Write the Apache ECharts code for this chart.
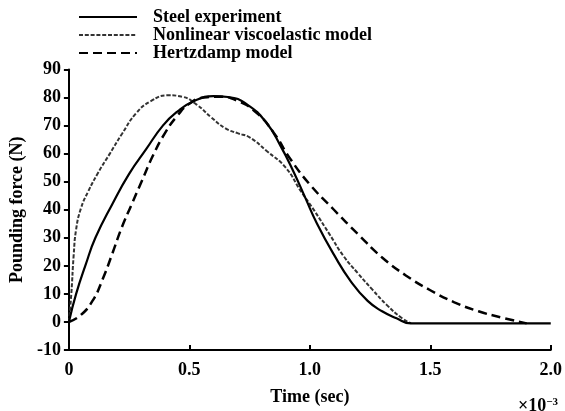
<!DOCTYPE html>
<html>
<head>
<meta charset="utf-8">
<script src="https://cdn.jsdelivr.net/npm/echarts@6/dist/echarts.min.js"></script>
<style>html,body{margin:0;padding:0;background:#fff;}#c{width:565px;height:411px;}</style>
</head>
<body>
<div id="c"></div>
<script>
// Time in units of 1e-3 s
const steelT = [0, 0.03, 0.07, 0.11, 0.18, 0.25, 0.32, 0.39, 0.45, 0.52, 0.6, 0.66, 0.74, 0.82, 0.88, 0.93, 0.98, 1.03, 1.1, 1.17, 1.24, 1.3, 1.36, 1.42, 2.0];
const steelF = [0, 10, 20.5, 30, 42, 52.8, 61.5, 70, 75, 78.8, 80.5, 80.2, 77.5, 71, 62.5, 54, 44.5, 35, 24, 14.5, 7.5, 3.8, 1.3, -0.5, -0.5];

const viscoT = [0, 0.01, 0.02, 0.03, 0.05, 0.08, 0.12, 0.17, 0.22, 0.28, 0.34, 0.41, 0.47, 0.53, 0.59, 0.65, 0.7, 0.75, 0.82, 0.9, 0.96, 1.02, 1.08, 1.14, 1.2, 1.26, 1.32, 1.38, 1.42];
const viscoF = [0, 10, 24, 33, 40.5, 46.5, 53, 60, 67, 74.5, 78.7, 80.8, 80.3, 77.5, 73, 69, 67.3, 65.8, 61, 55, 47, 39.5, 31.5, 23.5, 17.3, 11.5, 6, 1.5, -0.5];

const hertzT = [0, 0.05, 0.1, 0.14, 0.18, 0.22, 0.26, 0.3, 0.35, 0.4, 0.45, 0.5, 0.56, 0.62, 0.7, 0.78, 0.85, 0.92, 1.0, 1.1, 1.2, 1.3, 1.4, 1.5, 1.6, 1.7, 1.8, 1.9];
const hertzF = [0, 2.5, 7.8, 15.2, 24.3, 33.8, 41.8, 49.7, 59.5, 67.5, 73.5, 77.8, 80, 80.3, 78.8, 74.5, 67.5, 58, 49, 40, 31.3, 23, 16.5, 11.3, 7, 3.8, 1.5, -0.5];

const xTicks = ['0', '0.5', '1.0', '1.5', '2.0'];
const seriesNames = ['Steel experiment', 'Nonlinear viscoelastic model', 'Hertzdamp model'];

const zip = (a, b) => a.map((v, i) => [v, b[i]]);
const serif = '"Liberation Serif", "DejaVu Serif", serif';
const FS = 18;

const chart = echarts.init(document.getElementById('c'), null, {renderer: 'canvas'});
chart.setOption({
  animation: false,
  backgroundColor: '#fff',
  textStyle: {fontFamily: serif, color: '#000'},
  grid: {left: 66.5, right: 13.3, top: 69.5, bottom: 59.3, containLabel: false},
  legend: {
    orient: 'vertical',
    left: 73, top: 3,
    itemWidth: 58, itemHeight: 14, itemGap: 0,
    data: seriesNames,
    itemStyle: {opacity: 0},
    textStyle: {fontFamily: serif, fontSize: FS, fontWeight: 'bold', color: '#000', lineHeight: 18, padding: [0, 0, 0, 11]},
    selectedMode: false
  },
  xAxis: {
    type: 'value', min: 0, max: 2, interval: 0.5,
    name: 'Time (sec)', nameLocation: 'middle', nameGap: 38,
    nameTextStyle: {fontFamily: serif, fontSize: FS, fontWeight: 'bold', color: '#000'},
    axisLine: {show: true, onZero: false, lineStyle: {color: '#000', width: 2}},
    axisTick: {show: true, inside: true, length: 5, lineStyle: {color: '#000', width: 2}},
    axisLabel: {margin: 11, fontFamily: serif, fontSize: FS, fontWeight: 'bold', color: '#000',
      formatter: v => xTicks[Math.round(v / 0.5)]},
    splitLine: {show: false}
  },
  yAxis: {
    type: 'value', min: -10, max: 90, interval: 10,
    name: 'Pounding force (N)', nameLocation: 'middle', nameGap: 38, nameRotate: 90,
    nameTextStyle: {fontFamily: serif, fontSize: FS, fontWeight: 'bold', color: '#000'},
    axisLine: {show: true, onZero: false, lineStyle: {color: '#000', width: 2}},
    axisTick: {show: true, inside: false, length: 5, lineStyle: {color: '#000', width: 2}},
    axisLabel: {margin: 8, fontFamily: serif, fontSize: FS, fontWeight: 'bold', color: '#000'},
    splitLine: {show: false}
  },
  graphic: [{
    type: 'text', right: 7, bottom: -4,
    style: {
      text: '{a|×10}{b|−3}',
      rich: {
        a: {fontFamily: serif, fontSize: FS, fontWeight: 'bold', fill: '#000'},
        b: {fontFamily: serif, fontSize: 11, fontWeight: 'bold', fill: '#000', verticalAlign: 'top', padding: [0, 0, 8, 0]}
      }
    }
  }],
  series: [
    {name: seriesNames[0], type: 'line', data: zip(steelT, steelF), symbol: 'none', smooth: 0.5,
      lineStyle: {color: '#000', width: 2.2, type: 'solid'}, itemStyle: {color: '#000'}, z: 3},
    {name: seriesNames[1], type: 'line', data: zip(viscoT, viscoF), symbol: 'none', smooth: 0.5,
      lineStyle: {color: '#333', width: 2, type: [4, 1.8]}, itemStyle: {color: '#333'}, z: 2},
    {name: seriesNames[2], type: 'line', data: zip(hertzT, hertzF), symbol: 'none', smooth: 0.5,
      lineStyle: {color: '#000', width: 2.5, type: [9, 5]}, itemStyle: {color: '#000'}, z: 2}
  ]
});
</script>
</body>
</html>
